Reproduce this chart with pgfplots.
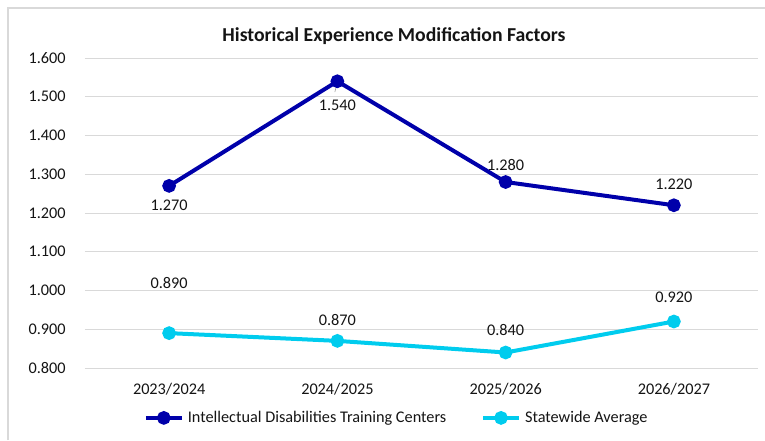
\documentclass[border=0pt]{standalone}
\usepackage{pgfplots}
\pgfplotsset{compat=1.18}
\usepackage{pgfplotstable}
\usepackage{fontspec}
\setmainfont{Carlito}
\definecolor{dkblue}{RGB}{0,0,170}
\definecolor{cyanline}{RGB}{0,204,238}
\definecolor{gridgray}{RGB}{217,217,217}
\definecolor{txt}{RGB}{20,20,20}
\pgfplotstableread{
x y dy
0 1.27 -14.25
1 1.54 -18
2 1.28 12.75
3 1.22 15.75
}\idtc
\pgfplotstableread{
x y dy
0 0.89 37.5
1 0.87 15.75
2 0.84 16.5
3 0.92 18
}\statewide
\begin{document}
\begin{tikzpicture}[x=1pt,y=1pt]
\useasboundingbox (0,0) rectangle (573.75,330);
\draw[gridgray, line width=1.5pt] (6,0) -- (6,324) -- (573.75,324);
\node[font=\fontsize{14.8}{17}\selectfont\bfseries, text=txt] at (295.5,303) {Historical Experience Modification Factors};
\begin{axis}[
  at={(63.75pt,54pt)}, anchor=south west,
  scale only axis, width=504.75pt, height=232.5pt,
  xmin=-0.5, xmax=3.5, ymin=0.8, ymax=1.6,
  ytick={0.8,0.9,1.0,1.1,1.2,1.3,1.4,1.5,1.6},
  xtick={0,1,2,3},
  xticklabels={2023/2024,2024/2025,2025/2026,2026/2027},
  /pgf/number format/assume math mode=true,
  yticklabel style={/pgf/number format/.cd, fixed, fixed zerofill, precision=3, /tikz/.cd, xshift=-11pt},
  xticklabel style={yshift=-7.5pt},
  tick label style={font=\fontsize{12.2}{14}\selectfont, text=txt},
  axis line style={draw=none},
  major tick length=0pt,
  ymajorgrids, grid style={gridgray, line width=0.75pt},
  clip=false,
  legend style={at={(axis description cs:0.4636,-0.161)}, anchor=center, draw=none, fill=none,
    font=\fontsize{12.2}{14}\selectfont, text=txt, column sep=1pt, inner sep=0pt,
    /tikz/every even column/.append style={column sep=24pt}},
  legend columns=2,
  legend cell align=left,
  legend image code/.code={\draw[mark repeat=2,mark phase=2,#1] plot coordinates {(0pt,0pt) (13.5pt,0pt) (27pt,0pt)};},
  nodes near coords={\pgfmathprintnumber[fixed,fixed zerofill,precision=3]{\pgfplotspointmeta}},
  nodes near coords style={anchor=center, font=\fontsize{12.2}{14}\selectfont, text=txt, yshift=\dy pt},
  visualization depends on={\thisrow{dy} \as \dy},
]
\addplot[dkblue, line width=3pt, mark=*, mark size=3.6pt, mark options={solid}] table[x=x,y=y] {\idtc};
\addlegendentry{Intellectual Disabilities Training Centers}
\addplot[cyanline, line width=3pt, mark=*, mark size=3.6pt, mark options={solid}] table[x=x,y=y] {\statewide};
\addlegendentry{Statewide Average}
\draw[gray!70, line width=0.5pt] (axis cs:0.985,1.512) -- (axis cs:0.998,1.535);
\end{axis}
\end{tikzpicture}
\end{document}
